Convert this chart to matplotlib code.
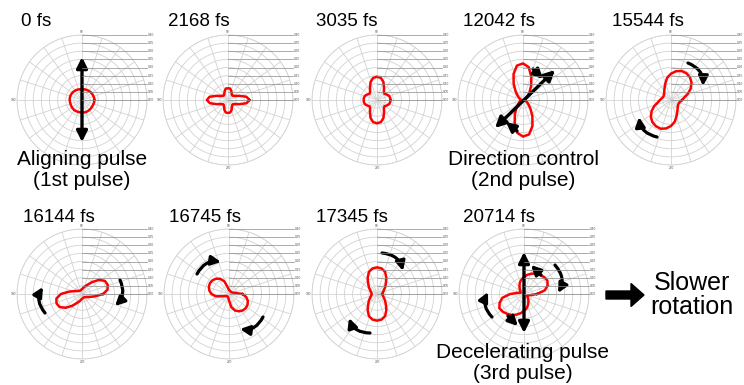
import numpy as np
import matplotlib
matplotlib.use("Agg")
import matplotlib.pyplot as plt
from matplotlib.patches import FancyArrowPatch

plt.rcParams["font.family"] = ["Liberation Sans", "DejaVu Sans"]

W, H = 744, 385
R = 65  # polar radius in pixels
RMAX = 0.40

# angle grid of the measured distributions (deg)
theta_deg = np.arange(0, 360, 10)

# radial probability distributions, one per snapshot
r_0fs = [0.075, 0.076, 0.074, 0.073, 0.072, 0.070, 0.069, 0.068, 0.067, 0.066, 0.067, 0.069,
         0.071, 0.072, 0.074, 0.075, 0.076, 0.076, 0.076, 0.075, 0.075, 0.076, 0.077, 0.078,
         0.078, 0.077, 0.077, 0.077, 0.078, 0.078, 0.077, 0.076, 0.075, 0.074, 0.075, 0.076]
r_2168fs = [0.132, 0.115, 0.075, 0.050, 0.040, 0.038, 0.045, 0.060, 0.072, 0.072, 0.072, 0.060,
            0.045, 0.038, 0.040, 0.050, 0.075, 0.115, 0.130, 0.113, 0.075, 0.050, 0.040, 0.040,
            0.048, 0.065, 0.078, 0.080, 0.078, 0.065, 0.048, 0.040, 0.040, 0.050, 0.075, 0.115]
r_3035fs = [0.082, 0.082, 0.078, 0.068, 0.060, 0.066, 0.086, 0.117, 0.138, 0.143, 0.138, 0.117,
            0.086, 0.066, 0.060, 0.068, 0.078, 0.082, 0.082, 0.082, 0.078, 0.068, 0.060, 0.066,
            0.086, 0.117, 0.138, 0.143, 0.138, 0.117, 0.086, 0.066, 0.060, 0.068, 0.078, 0.082]
r_12042fs = [0.012, 0.014, 0.018, 0.025, 0.038, 0.062, 0.100, 0.150, 0.205, 0.225, 0.215, 0.170,
             0.115, 0.072, 0.045, 0.030, 0.020, 0.014, 0.012, 0.014, 0.018, 0.025, 0.038, 0.062,
             0.100, 0.150, 0.205, 0.225, 0.215, 0.170, 0.115, 0.072, 0.045, 0.030, 0.020, 0.014]
r_15544fs = [0.068, 0.082, 0.110, 0.140, 0.165, 0.182, 0.190, 0.190, 0.180, 0.162, 0.138, 0.105,
             0.080, 0.065, 0.056, 0.052, 0.052, 0.058, 0.068, 0.082, 0.110, 0.138, 0.162, 0.178,
             0.186, 0.188, 0.178, 0.160, 0.135, 0.102, 0.078, 0.064, 0.055, 0.052, 0.052, 0.058]
r_16144fs = [0.130, 0.160, 0.168, 0.162, 0.135, 0.095, 0.065, 0.048, 0.037, 0.030, 0.026, 0.024,
             0.024, 0.026, 0.030, 0.037, 0.052, 0.082, 0.130, 0.160, 0.167, 0.160, 0.132, 0.095,
             0.065, 0.048, 0.037, 0.030, 0.026, 0.024, 0.024, 0.026, 0.030, 0.037, 0.052, 0.082]
r_16745fs = [0.082, 0.040, 0.025, 0.020, 0.018, 0.018, 0.018, 0.020, 0.022, 0.025, 0.040, 0.082,
             0.108, 0.123, 0.132, 0.135, 0.132, 0.123, 0.108, 0.082, 0.040, 0.025, 0.020, 0.018,
             0.018, 0.020, 0.025, 0.040, 0.082, 0.108, 0.123, 0.132, 0.135, 0.132, 0.123, 0.108]
r_17345fs = [0.032, 0.035, 0.040, 0.050, 0.065, 0.085, 0.115, 0.145, 0.160, 0.164, 0.160, 0.145,
             0.115, 0.085, 0.065, 0.050, 0.040, 0.035, 0.032, 0.035, 0.040, 0.050, 0.065, 0.085,
             0.115, 0.145, 0.160, 0.164, 0.160, 0.145, 0.115, 0.085, 0.065, 0.050, 0.040, 0.035]
r_20714fs = [0.080, 0.130, 0.155, 0.166, 0.162, 0.153, 0.145, 0.133, 0.120, 0.105, 0.090, 0.075,
             0.056, 0.040, 0.030, 0.024, 0.022, 0.040, 0.085, 0.135, 0.160, 0.175, 0.170, 0.160,
             0.150, 0.135, 0.120, 0.105, 0.090, 0.072, 0.055, 0.040, 0.028, 0.022, 0.025, 0.040]

labels = ["0 fs", "2168 fs", "3035 fs", "12042 fs", "15544 fs",
          "16144 fs", "16745 fs", "17345 fs", "20714 fs"]
series = [r_0fs, r_2168fs, r_3035fs, r_12042fs, r_15544fs,
          r_16144fs, r_16745fs, r_17345fs, r_20714fs]

# panel centres (pixels from top-left) and title anchors
centers = [(82, 100), (228, 100), (377, 100), (523, 100), (671, 100),
           (82, 294), (229, 294), (377, 294), (524, 294)]
title_pos = [(21, 22), (168, 22), (316, 22), (463, 22), (612, 22),
             (23, 217), (169, 217), (316, 217), (463, 217)]
# panels whose bottom "270" tick is hidden under a caption
covered = {0, 3, 8}

fig = plt.figure(figsize=(W / 100, H / 100), dpi=100)

for (cx, cy), r, lab in zip(centers, series, labels):
    ax = fig.add_axes([(cx - R) / W, (H - cy - R) / H, 2 * R / W, 2 * R / H],
                      projection="polar")
    ax.set_ylim(0, RMAX)
    ax.set_rgrids(np.arange(0.05, 0.401, 0.05), labels=[])
    ax.set_thetagrids(np.arange(0, 360, 18), labels=[])
    ax.grid(color="#d2d2d2", lw=0.6)
    ax.spines["polar"].set_color("#d2d2d2")
    ax.spines["polar"].set_linewidth(0.6)
    th = np.radians(np.append(theta_deg, theta_deg[0]))
    rr = np.append(r, r[0])
    ax.plot(th, rr, color="#ff0000", lw=1.8, solid_joinstyle="round")

# overlay in pixel coordinates for labels, axis ticks and arrows
ov = fig.add_axes([0, 0, 1, 1])
ov.set_xlim(0, W)
ov.set_ylim(H, 0)
ov.axis("off")
ov.patch.set_visible(False)

for i, ((cx, cy), lab, (tx, ty)) in enumerate(zip(centers, labels, title_pos)):
    ov.text(tx, ty, lab, fontsize=13.5, ha="left", va="center")
    for k in range(9):
        y = cy - R * k / 8
        ov.plot([cx, cx + R], [y, y], color="#8a8a8a", lw=0.5)
        ov.text(cx + R + 1, y, f"{0.05 * k:.2f}", fontsize=2.3, color="#555555",
                ha="left", va="center")
    ov.text(cx, cy - R - 1, "90", fontsize=2.3, color="#555555", ha="center", va="bottom")
    ov.text(cx - R - 1, cy, "180", fontsize=2.3, color="#555555", ha="right", va="center")
    if i not in covered:
        ov.text(cx, cy + R + 1, "270", fontsize=2.3, color="#555555", ha="center", va="top")

# annotations
note = dict(fontsize=15, ha="center", va="center", linespacing=1.12)
ov.text(82, 170, "Aligning pulse\n(1st pulse)", **note)
ov.text(523, 170, "Direction control\n(2nd pulse)", **note)
ov.text(523, 363, "Decelerating pulse\n(3rd pulse)", **note)
ov.text(692, 295, "Slower\nrotation", fontsize=18, ha="center", va="center",
        linespacing=1.05)


def straight(p0, p1, both=False, scale=16):
    style = "<|-|>" if both else "-|>"
    ov.add_patch(FancyArrowPatch(p0, p1, arrowstyle=style, mutation_scale=scale,
                                 lw=2.4, color="black", shrinkA=0, shrinkB=0))


def curved(p0, p1, rad=-0.35):
    ov.add_patch(FancyArrowPatch(p0, p1, arrowstyle="-|>", mutation_scale=14,
                                 connectionstyle=f"arc3,rad={rad}",
                                 lw=2.3, color="black", shrinkA=0, shrinkB=0))


# pulse polarisation arrows
straight((82, 57), (82, 142), both=True)
straight((495, 128), (555, 70), both=True)
straight((524, 252), (524, 333), both=True)

# short rotation arrows
straight((533, 69), (543, 79), scale=14)
straight((517, 131), (506, 122), scale=14)
straight((541, 275), (531, 265), scale=14)
straight((508, 316), (518, 326), scale=14)

# curved rotation arrows (clockwise)
curved((688, 63), (703, 86))
curved((657, 137), (639, 117))
curved((45, 313), (43, 287))
curved((120, 280), (115, 306))
curved((197, 274), (221, 262))
curved((263, 317), (240, 329))
curved((382, 253), (403, 271))
curved((370, 333), (349, 318))
curved((555, 265), (558, 293))
curved((492, 317), (488, 292))

# big arrow
ov.arrow(606, 295, 38, 0, width=8, head_width=23, head_length=13,
         length_includes_head=True, color="black")

fig.savefig("out.png", dpi=100)
